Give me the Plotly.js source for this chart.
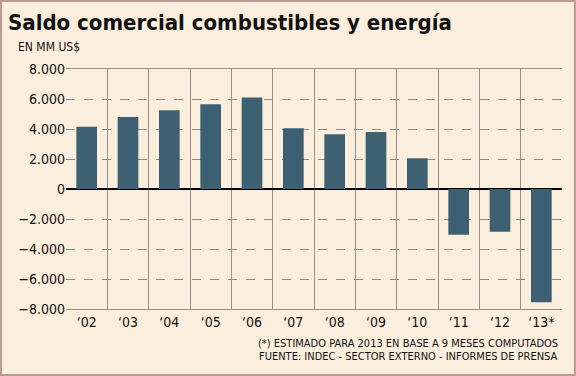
<!DOCTYPE html>
<html><head><meta charset="utf-8">
<script src="https://cdn.plot.ly/plotly-3.0.1.min.js"></script>
<style>html,body{margin:0;padding:0;background:#FCEEDC}</style>
</head><body><div id="chart" style="width:576px;height:376px"></div>
<script>
const categories = ["‘02","‘03","‘04","‘05","‘06","‘07","‘08","‘09","‘10","‘11","‘12","‘13*"];
const saldo = [4150, 4800, 5250, 5650, 6100, 4050, 3650, 3800, 2050, -3050, -2850, -7550];
const yTicks = [-8000,-6000,-4000,-2000,0,2000,4000,6000,8000];

const font = "'DejaVu Sans Condensed', 'DejaVu Sans', Tahoma, sans-serif";
const data = [{
  type: 'bar', x: categories, y: saldo, width: 0.5,
  marker: {color: '#3D6073', line: {width: 0}}, hoverinfo: 'none'
}];
const layout = {
  width: 576, height: 376,
  paper_bgcolor: '#FCEEDC', plot_bgcolor: '#FCEEDC',
  separators: ',.',
  margin: {l: 66, r: 14, t: 69, b: 67},
  showlegend: false,
  bargap: 0.5,
  font: {family: font, color: '#111', size: 14},
  title: {text: '<b>Saldo comercial combustibles y energía</b>', x: 0.014, xanchor: 'left', y: 0.942, yanchor: 'middle',
          font: {family: "Tahoma, 'DejaVu Sans Condensed', 'DejaVu Sans', sans-serif", size: 22, color: '#111'}},
  xaxis: {
    type: 'category', tickson: 'boundaries', ticks: '', showgrid: true,
    gridcolor: '#9A9088', gridwidth: 1, showline: true, linecolor: '#9A9088', mirror: true,
    tickfont: {size: 14}, fixedrange: true
  },
  yaxis: {
    range: [-8000, 8000], tickvals: yTicks, tickformat: ',d', showgrid: true,
    gridcolor: '#8A8A8A', griddash: 'dash', gridwidth: 1, zeroline: true, zerolinecolor: '#000', zerolinewidth: 1.5,
    showline: false, ticks: '', tickfont: {size: 14}, fixedrange: true
  },
  annotations: [
    {text: 'EN MM US$', xref: 'paper', yref: 'paper', x: -0.101, y: 1.092, xanchor: 'left', yanchor: 'middle', showarrow: false, font: {size: 12}},
    {text: '(*) ESTIMADO PARA 2013 EN BASE A 9 MESES COMPUTADOS', xref: 'paper', yref: 'paper', x: 0.995, y: -0.142, xanchor: 'right', yanchor: 'middle', showarrow: false, font: {size: 11}},
    {text: 'FUENTE: INDEC - SECTOR EXTERNO - INFORMES DE PRENSA', xref: 'paper', yref: 'paper', x: 0.995, y: -0.196, xanchor: 'right', yanchor: 'middle', showarrow: false, font: {size: 11}}
  ],
  shapes: [
    {type: 'rect', xref: 'paper', yref: 'paper', x0: -0.131, x1: 1.026, y0: -0.275, y1: 1.283, line: {color: '#B89A8E', width: 2}, layer: 'above'}
  ]
};
Plotly.newPlot('chart', data, layout, {staticPlot: true});
</script></body></html>
